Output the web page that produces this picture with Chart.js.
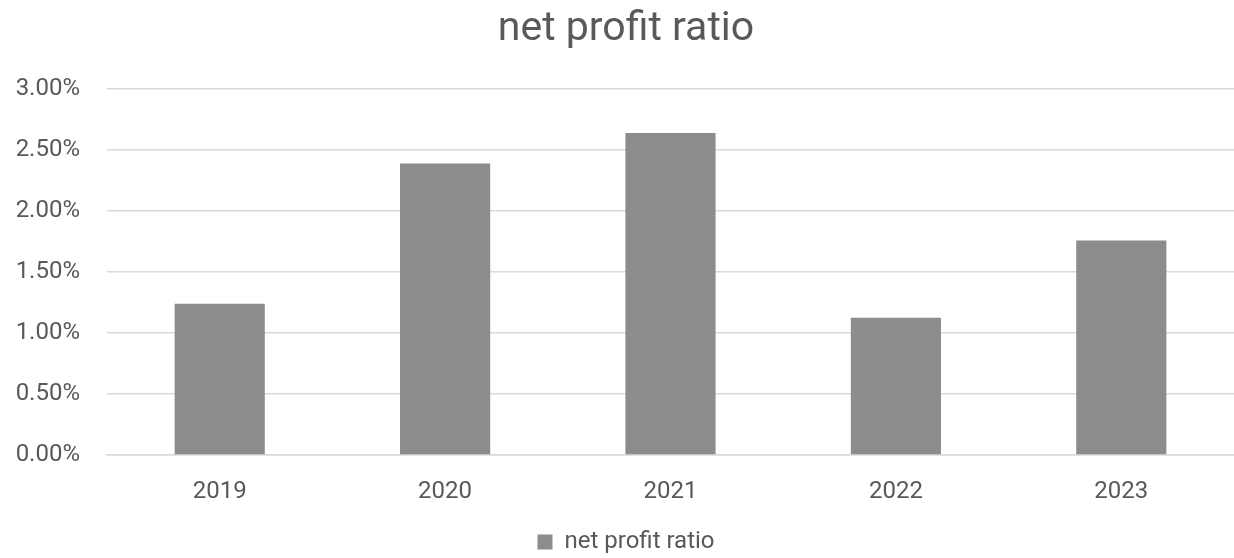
<!DOCTYPE html>
<html lang="en">
<head>
  <meta charset="UTF-8">
  <title>net profit ratio</title>
  <script src="https://cdn.jsdelivr.net/npm/chart.js"></script>
  <style>
    html, body {
      margin: 0;
      padding: 0;
      background-color: #fff;
    }
    #chart-box {
      width: 1234px;
      height: 558px;
    }
  </style>
</head>
<body>

  <div id="chart-box">
    <canvas id="ratioChart"></canvas>
  </div>

  <script>
    // years and ratio values (in percent)
    const years = ['2019', '2020', '2021', '2022', '2023'];
    const ratios = [1.24, 2.39, 2.64, 1.125, 1.76];
    const seriesName = 'net profit ratio';

    const textColor = '#595959';
    const barColor = '#8c8b8d';
    const gridColor = '#d9d9d9';

    Chart.defaults.font.family = 'Roboto, sans-serif';
    Chart.defaults.color = textColor;

    const ctx = document.getElementById('ratioChart').getContext('2d');
    new Chart(ctx, {
      type: 'bar',
      data: {
        labels: years,
        datasets: [{
          label: seriesName,
          data: ratios,
          backgroundColor: barColor,
          borderWidth: 0,
          barPercentage: 0.40,
          categoryPercentage: 1.0
        }]
      },
      options: {
        responsive: true,
        maintainAspectRatio: false,
        animation: false,
        layout: {
          // plot runs right up to the canvas edge
          padding: { left: 12, right: -6, top: 0, bottom: -6 }
        },
        plugins: {
          title: {
            display: true,
            text: 'net profit ratio',
            color: textColor,
            font: { size: 41, weight: 'normal' },
            padding: { top: 5, bottom: 35 }
          },
          legend: {
            position: 'bottom',
            labels: {
              color: textColor,
              font: { size: 24 },
              boxWidth: 15,
              boxHeight: 15,
              padding: 4
            }
          },
          tooltip: { enabled: false }
        },
        scales: {
          x: {
            grid: { display: false },
            border: { color: gridColor, width: 1.5 },
            ticks: {
              color: textColor,
              font: { size: 24 },
              padding: 15
            },
            afterFit: (scale) => { scale.height = 71; }
          },
          y: {
            min: 0,
            max: 3,
            grid: {
              color: gridColor,
              lineWidth: 1.5,
              drawTicks: false
            },
            border: { display: false },
            ticks: {
              stepSize: 0.5,
              color: textColor,
              font: { size: 24 },
              padding: 27,
              callback: (v) => v.toFixed(2) + '%'
            },
            afterFit: (scale) => { scale.width = 95; }
          }
        }
      }
    });
  </script>
</body>
</html>
